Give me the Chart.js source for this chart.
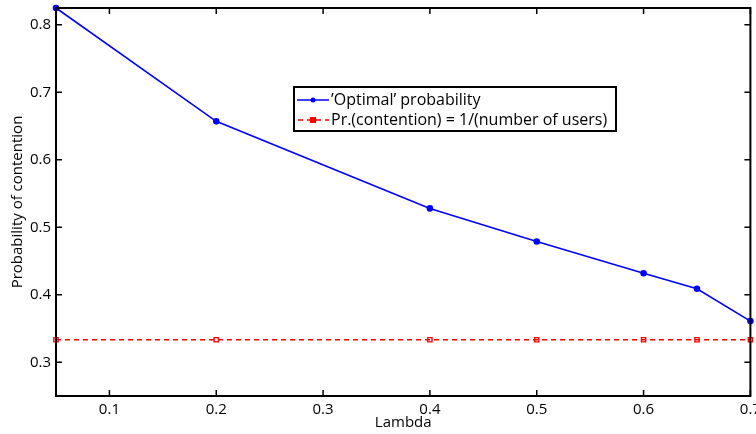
<!DOCTYPE html>
<html>
<head>
<meta charset="utf-8">
<script src="https://cdn.jsdelivr.net/npm/chart.js@4"></script>
<style>
  html, body { margin: 0; padding: 0; background: #fff; }
  #wrap { width: 756px; height: 434px; position: relative; }
</style>
</head>
<body>
<div id="wrap"><canvas id="contention-chart"></canvas></div>
<script>
Chart.defaults.font.family = "'Open Sans', 'DejaVu Sans', sans-serif";
Chart.defaults.font.size = 14;
Chart.defaults.color = "#000";

// data
var lambdas = [0.05, 0.2, 0.4, 0.5, 0.6, 0.65, 0.7];
var optimalProb = [0.825, 0.657, 0.528, 0.479, 0.432, 0.409, 0.361];
var uniformProb = [0.3333, 0.3333, 0.3333, 0.3333, 0.3333, 0.3333, 0.3333];
var xTicks = [0.1, 0.2, 0.3, 0.4, 0.5, 0.6, 0.7];
var yTicks = [0.3, 0.4, 0.5, 0.6, 0.7, 0.8];
var seriesNames = ["\u2019Optimal\u2019 probability", "Pr.(contention) = 1/(number of users)"];

function toPoints(xs, ys) {
    return xs.map((x, i) => ({ x: x, y: ys[i] }));
}

// matlab style box with inward ticks + legend box
var matlabBox = {
    id: "matlabBox",
    afterDatasetsDraw(chart) {
        const ctx = chart.ctx;
        const a = chart.chartArea;
        const xs = chart.scales.x, ys = chart.scales.y;
        ctx.save();
        ctx.strokeStyle = "#000";
        ctx.lineWidth = 2;
        ctx.strokeRect(a.left, a.top, a.right - a.left, a.bottom - a.top);
        ctx.lineWidth = 1.5;
        ctx.beginPath();
        xTicks.forEach(v => {
            const px = xs.getPixelForValue(v);
            ctx.moveTo(px, a.bottom); ctx.lineTo(px, a.bottom - 6);
            ctx.moveTo(px, a.top); ctx.lineTo(px, a.top + 6);
        });
        yTicks.forEach(v => {
            const py = ys.getPixelForValue(v);
            ctx.moveTo(a.left, py); ctx.lineTo(a.left + 6, py);
            ctx.moveTo(a.right, py); ctx.lineTo(a.right - 6, py);
        });
        ctx.stroke();

        // legend
        const lx = 294, ly = 87, lw = 322, lh = 44;
        ctx.fillStyle = "#fff";
        ctx.fillRect(lx, ly, lw, lh);
        ctx.lineWidth = 2;
        ctx.strokeRect(lx, ly, lw, lh);

        ctx.font = "16px 'Open Sans', 'DejaVu Sans', sans-serif";
        ctx.textBaseline = "middle";
        ctx.fillStyle = "#000";

        let y1 = 100;
        ctx.strokeStyle = "#0000ff";
        ctx.lineWidth = 1.5;
        ctx.beginPath(); ctx.moveTo(lx + 3, y1); ctx.lineTo(lx + 35, y1); ctx.stroke();
        ctx.fillStyle = "#0000ff";
        ctx.beginPath(); ctx.arc(lx + 19, y1, 2.5, 0, Math.PI * 2); ctx.fill();
        ctx.fillStyle = "#000";
        ctx.fillText(seriesNames[0], lx + 37, y1);

        let y2 = 120;
        ctx.strokeStyle = "#ff0000";
        ctx.setLineDash([5, 4]);
        ctx.beginPath(); ctx.moveTo(lx + 4, y2); ctx.lineTo(lx + 35, y2); ctx.stroke();
        ctx.setLineDash([]);
        ctx.fillStyle = "#ff0000";
        ctx.fillRect(lx + 16, y2 - 3, 6, 6);
        ctx.fillStyle = "#000";
        ctx.fillText(seriesNames[1], lx + 37, y2);
        ctx.restore();
    }
};

var chartEl = document.getElementById("contention-chart");
var mychart = new Chart(chartEl, {
    type: "line",
    data: {
        datasets: [{
            label: seriesNames[0],
            data: toPoints(lambdas, optimalProb),
            borderColor: "#0000ff",
            backgroundColor: "#0000ff",
            borderWidth: 1.6,
            pointRadius: 2.5,
            pointStyle: "circle",
            tension: 0,
            clip: false
        }, {
            label: seriesNames[1],
            data: toPoints(lambdas, uniformProb),
            borderColor: "#ff0000",
            backgroundColor: "rgba(255,255,255,0)",
            borderWidth: 1.4,
            borderDash: [5, 4],
            pointRadius: 3,
            pointBorderWidth: 1.4,
            pointStyle: "rect",
            tension: 0,
            clip: false
        }]
    },
    options: {
        responsive: true,
        maintainAspectRatio: false,
        animation: false,
        layout: { padding: { top: 8, right: 5, left: 0, bottom: 0 } },
        plugins: {
            legend: { display: false },
            tooltip: { enabled: false }
        },
        scales: {
            x: {
                type: "linear",
                min: 0.05,
                max: 0.7,
                afterBuildTicks: (s) => { s.ticks = xTicks.map(v => ({ value: v })); },
                afterFit: (s) => { s.height = 38; s.paddingLeft = 0; s.paddingRight = 0; },
                grid: { display: false, drawTicks: false },
                border: { display: false },
                ticks: { autoSkip: false, maxRotation: 0, padding: 5, font: { size: 15 }, callback: (v) => v.toFixed(1) },
                title: { display: true, text: "Lambda", padding: { top: -6, bottom: 2 }, font: { size: 15 } }
            },
            y: {
                type: "linear",
                min: 0.25,
                max: 0.825,
                afterBuildTicks: (s) => { s.ticks = yTicks.map(v => ({ value: v })); },
                afterFit: (s) => { s.width = 56; s.paddingTop = 0; s.paddingBottom = 0; },
                grid: { display: false, drawTicks: false },
                border: { display: false },
                ticks: { padding: 5, font: { size: 15 }, callback: (v) => v.toFixed(1) },
                title: { display: true, text: "Probability of contention", padding: { top: 9, bottom: 0 }, font: { size: 15 } }
            }
        }
    },
    plugins: [matlabBox]
});
</script>
</body>
</html>
